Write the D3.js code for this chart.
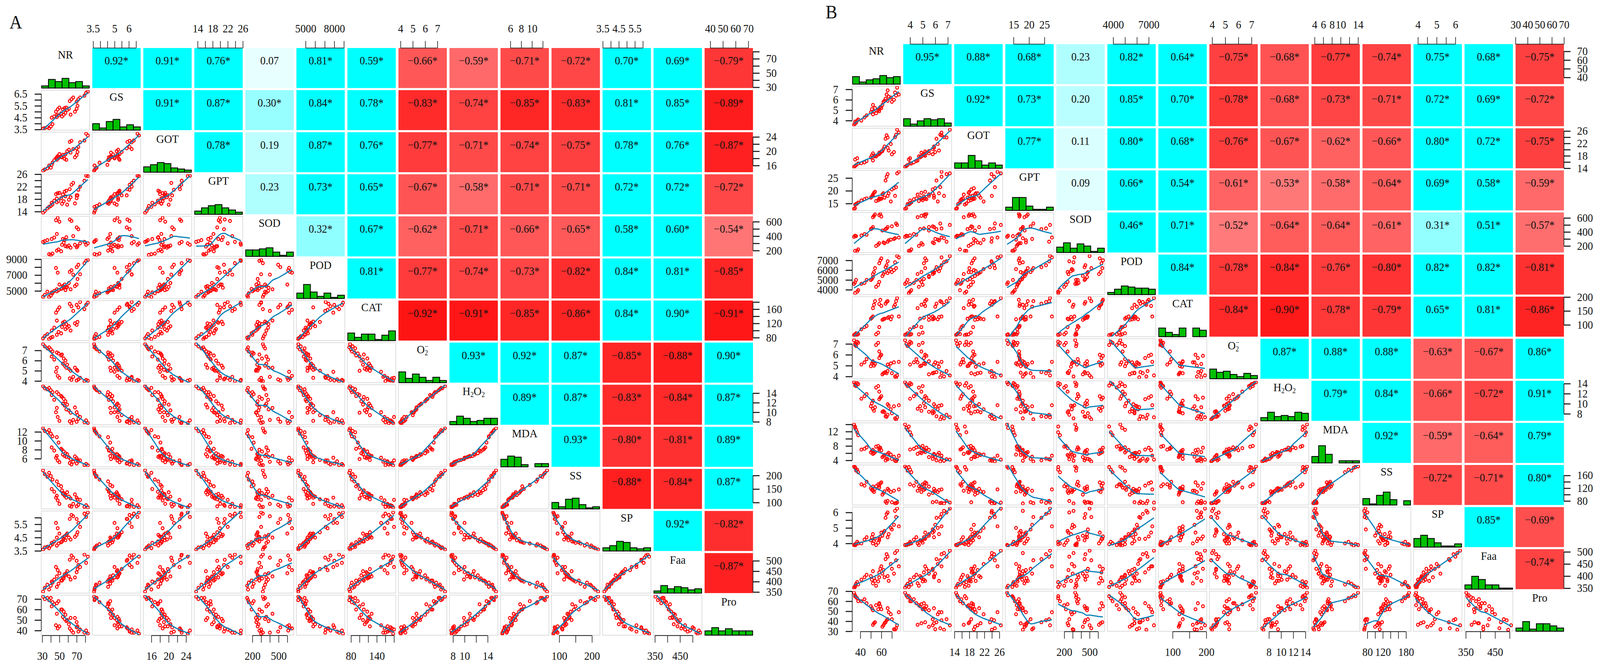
<!DOCTYPE html>
<html>
<head>
<meta charset="utf-8">
<script src="https://cdn.jsdelivr.net/npm/d3@7"></script>
<style>
  html, body { margin: 0; padding: 0; background: #fff; width: 100%; height: 100%; overflow: hidden; }
  svg { display: block; width: 100vw; height: 100vh; }
  text { font-family: "Liberation Serif", "Times New Roman", serif; fill: #111; }
</style>
</head>
<body>
<div id="chart"></div>
<script>
const varNames = ["NR", "GS", "GOT", "GPT", "SOD", "POD", "CAT", "O2", "H2O2", "MDA", "SS", "SP", "Faa", "Pro"];

// panel A samples (three per treatment)
const nrA = [31,33,36, 38,40,42, 41,44,47, 46,48,50, 47,49,52, 53,55,57, 54,56,58, 59,61,63, 62,64,66, 68,70,71, 70,72,74, 79,81,83];
const gsA = [3.57,3.62,3.7, 3.6,3.75,3.95, 4.5,4.6,4.7, 5.0,5.2,5.35, 4.55,4.7,4.85, 4.6,4.75,4.9, 5.2,5.3,5.35, 5.15,5.25,4.75, 5.9,6.05,6.2, 5.0,5.25,5.5, 5.85,6.05,6.2, 6.35,6.6,6.7];
const gotA = [14.55,14.9,15.2, 16.0,15.4,16.8, 16.2,17.5,18.3, 18.0,18.6,19.2, 17.6,18.1,18.4, 18.3,18.6,19.1, 19.0,17.9,17.6, 20.0,20.4,19.6, 22.6,22.9,20.6, 18.3,18.9,19.8, 20.8,21.2,22.5, 23.0,24.9,24.4];
const gptA = [13.6,14.2,15.0, 15.5,15.8,16.3, 16.8,17.5,18.2, 19.6,19.9,20.0, 17.0,17.4,18.3, 16.5,17.3,18.9, 19.5,20.4,20.7, 16.2,17.8,18.6, 21.2,22.6,23.2, 16.6,18.3,19.2, 19.2,21.0,22.0, 23.9,25.5,25.4];
const sodA = [320,330,345, 150,140,158, 360,380,430, 620,653,600, 200,215,190, 280,310,260, 360,345,385, 255,270,240, 630,610,400, 280,245,260, 520,495,300, 320,280,300];
const podA = [4250,4500,4900, 4230,4400,4700, 4800,5000,5200, 7900,7300,5800, 4950,5100,5250, 5300,5500,5100, 5600,5800,5400, 5500,6000,5200, 7400,7600,7050, 5600,5800,6500, 8000,8300,7100, 8500,8800,8910];
const catA = [78,84,90, 76,80,82, 100,108,128, 150,158,165, 88,96,92, 110,118,104, 122,125,118, 108,112,100, 175,168,155, 120,116,124, 172,165,180, 160,172,178];
const o2A = [7.62,7.4,7.2, 7.3,7.1,6.9, 6.4,6.1,5.3, 4.9,4.5,4.3, 6.8,6.7,6.5, 6.6,6.2,6.0, 5.7,5.5,5.3, 5.6,5.2,5.0, 4.25,4.1,4.4, 5.3,5.1,5.0, 4.05,4.15,4.3, 3.98,4.1,4.03];
const h2o2A = [15.45,15.0,14.8, 15.1,14.6,14.2, 13.6,12.6,10.9, 10.0,9.0,8.2, 14.2,13.8,13.4, 13.2,12.8,12.3, 11.8,11.4,10.6, 11.6,10.4,9.9, 8.1,7.7,8.4, 11.0,10.0,9.4, 8.0,8.6,9.0, 7.9,8.3,7.75];
const mdaA = [12.8,12.2,11.9, 12.4,11.6,11.0, 8.5,7.8,6.6, 6.2,5.6,5.2, 10.8,9.6,8.2, 8.0,7.6,7.2, 6.9,6.6,6.4, 7.0,6.3,5.9, 5.0,4.7,5.3, 6.5,6.1,5.7, 4.9,5.4,5.6, 4.55,4.8,4.5];
const ssA = [219,205,195, 210,198,185, 150,140,125, 118,108,95, 178,165,160, 145,135,128, 132,125,118, 138,122,115, 88,85,95, 130,118,112, 86,92,110, 84,90,82];
const spA = [3.6,3.75,3.8, 3.7,3.9,4.0, 4.1,4.2,4.5, 5.6,5.2,4.8, 3.9,4.05,4.15, 4.2,4.4,4.3, 4.5,4.6,4.7, 4.8,4.5,4.35, 5.9,6.2,6.1, 4.55,4.7,4.9, 5.9,5.6,5.3, 6.3,6.05,6.39];
const faaA = [352,370,385, 362,380,395, 400,410,425, 470,455,440, 375,390,405, 405,415,430, 420,435,440, 450,425,410, 505,525,515, 420,445,460, 500,480,470, 530,490,520];
const proA = [72.3,70,71, 69,71,67, 63,65,56, 45,42,44, 66,68,60, 60,58,55, 53,51,49, 50,46,52, 42,40,38, 52,48,44, 43,39,41, 38,40,37];

// panel B samples
const nrB = [34,35,36, 35,37,38, 41,44,46, 50,51,52, 52,53,54, 55,57,58, 58,59,60, 61,62,63, 64,65,66, 66,67,69, 70,72,73, 74,75,76.6];
const gsB = [3.6,3.7,3.8, 3.9,4.0,4.1, 4.0,4.3,4.5, 4.8,5.1,5.5, 4.6,4.9,5.2, 4.7,5.0,4.9, 5.1,5.3,5.2, 5.5,5.8,5.9, 6.1,6.5,6.9, 5.9,6.3,6.2, 5.8,6.0,6.7, 6.4,7.16,6.5];
const gotB = [14.45,14.7,15, 16.8,17.2,15.5, 15.6,15.9,16.3, 17.5,18.2,18.8, 16.5,17.8,18, 17.8,18.4,19, 18.6,19,19.4, 19.5,20.2,21, 23.5,24.6,23.9, 20.6,19.7,21.8, 18.5,19.2,24, 24.8,26.4,25.5];
const gptB = [12.9,13.2,14.8, 14.6,15.0,15.4, 16.2,16.7,17.0, 17.3,17.8,18.0, 18.5,19.2,19.6, 16.0,16.3,16.8, 17,16.7,16.9, 18.6,19,17.3, 24,25.5,26.5, 18,19,15.8, 20.5,21,18, 21.4,26.8,27.4];
const sodB = [330,345,340, 130,128,150, 350,370,360, 440,450,470, 610,630,650, 200,220,240, 640,657,620, 420,250,240, 440,450,260, 470,280,290, 480,300,310, 520,500,320];
const podB = [4600,4750,5000, 3660,3800,3950, 4600,4700,5000, 5000,5100,5300, 5600,5800,6200, 4300,4500,4800, 6700,7000,7200, 5400,5600,5800, 6300,6500,6900, 5700,5900,6100, 5800,6000,6800, 6200,7440,7300];
const catB = [64,66,70, 63,65,67, 84,92,96, 122,126,130, 160,172,185, 66,72,92, 175,190,168, 118,120,122, 176,182,185, 125,128,120, 130,165,172, 185,196,130];
const o2B = [7.34,7.0,6.8, 6.9,7.2,7.1, 5.1,5.3,5.6, 4.95,5.2,5.4, 5.3,5.0,5.15, 6.9,7.1,6.3, 5.7,5.9,6.0, 4.2,4.3,4.35, 4.4,4.3,4.5, 5.1,4.9,5.2, 4.3,5.3,4.0, 3.93,4.1,5.35];
const h2o2B = [14.26,13.9,13.5, 13.6,14.1,13.9, 11.0,11.5,11.9, 9.5,10.1,10.6, 9.0,8.6,9.3, 13.2,13.5,12.4, 10.9,11.2,11.5, 8.4,8.5,8.3, 7.5,7.4,7.8, 9.9,9.6,8.9, 8.1,9.5,7.1, 6.9,7.3,9.7];
const mdaB = [14.0,13.0,12.5, 13.4,11.8,11.0, 7.0,7.2,7.6, 6.2,6.6,6.9, 5.8,6.0,6.3, 7.8,8.0,7.4, 7.0,7.5,6.8, 4.9,5.2,5.5, 4.0,4.5,4.3, 5.8,6.1,5.6, 4.4,5.0,3.9, 3.7,4.2,5.3];
const ssB = [188,184,175, 186,178,170, 132,128,140, 120,115,125, 112,108,118, 126,132,122, 128,135,138, 100,105,110, 78,74,80, 118,114,108, 76,112,72, 73,75,116];
const spB = [3.9,3.86,3.95, 3.95,4.1,4.0, 4.0,4.25,4.4, 4.2,4.4,4.6, 4.0,4.15,4.3, 3.9,4.05,4.2, 4.3,4.45,4.7, 4.5,4.7,4.8, 5.65,5.9,6.0, 4.4,4.6,5.0, 4.9,5.2,6.1, 5.7,6.25,5.1];
const faaB = [352,360,368, 355,375,365, 385,395,405, 400,385,420, 370,392,380, 360,378,395, 415,430,440, 410,425,395, 470,490,480, 400,380,450, 430,410,495, 465,505,440];
const proB = [68.5,66,64, 65,63,60, 60,62,58, 55,53,51, 36.5,38,39, 56,52,57, 58,55,52, 34.5,36,38, 39,41,42, 53,49,47, 42,32,31.5, 33,36,49];

// histogram counts on the diagonal
const histA = [[2,8,6,9,5,6,2],[6,2,8,10,3,5,3],[5,7,9,8,4,3,2],[3,6,8,9,6,4,2],[6,6,7,8,4,1,4],[5,13,6,2,5,1,3],[7,3,6,6,1,5,9],
               [10,4,8,5,2,5,2],[3,8,6,3,4,6,6],[7,10,9,2,0,3,3],[6,2,9,10,4,1,2],[3,5,9,8,3,2,3],[2,7,4,6,5,3,4],[4,7,4,6,4,4,4]];
const histB = [[7,2,4,5,8,6,7],[7,2,5,7,6,7,3],[5,5,12,7,3,5,3],[3,12,12,4,1,1,3],[5,9,4,8,6,1,4],[2,5,8,7,6,6,5],[8,4,2,8,0,8,6],
               [9,6,7,4,2,5,3],[3,8,4,5,4,8,7],[6,16,8,0,2,2,2],[6,1,9,12,5,0,4],[8,11,8,4,1,1,3],[4,12,9,4,4,1,1],[3,9,2,7,7,5,3]];

// correlation labels, upper triangle row by row
const corrA = [
  ["0.92*","0.91*","0.76*","0.07","0.81*","0.59*","-0.66*","-0.59*","-0.71*","-0.72*","0.70*","0.69*","-0.79*"],
  ["0.91*","0.87*","0.30*","0.84*","0.78*","-0.83*","-0.74*","-0.85*","-0.83*","0.81*","0.85*","-0.89*"],
  ["0.78*","0.19","0.87*","0.76*","-0.77*","-0.71*","-0.74*","-0.75*","0.78*","0.76*","-0.87*"],
  ["0.23","0.73*","0.65*","-0.67*","-0.58*","-0.71*","-0.71*","0.72*","0.72*","-0.72*"],
  ["0.32*","0.67*","-0.62*","-0.71*","-0.66*","-0.65*","0.58*","0.60*","-0.54*"],
  ["0.81*","-0.77*","-0.74*","-0.73*","-0.82*","0.84*","0.81*","-0.85*"],
  ["-0.92*","-0.91*","-0.85*","-0.86*","0.84*","0.90*","-0.91*"],
  ["0.93*","0.92*","0.87*","-0.85*","-0.88*","0.90*"],
  ["0.89*","0.87*","-0.83*","-0.84*","0.87*"],
  ["0.93*","-0.80*","-0.81*","0.89*"],
  ["-0.88*","-0.84*","0.87*"],
  ["0.92*","-0.82*"],
  ["-0.87*"]
];
const corrB = [
  ["0.95*","0.88*","0.68*","0.23","0.82*","0.64*","-0.75*","-0.68*","-0.77*","-0.74*","0.75*","0.68*","-0.75*"],
  ["0.92*","0.73*","0.20","0.85*","0.70*","-0.78*","-0.68*","-0.73*","-0.71*","0.72*","0.69*","-0.72*"],
  ["0.77*","0.11","0.80*","0.68*","-0.76*","-0.67*","-0.62*","-0.66*","0.80*","0.72*","-0.75*"],
  ["0.09","0.66*","0.54*","-0.61*","-0.53*","-0.58*","-0.64*","0.69*","0.58*","-0.59*"],
  ["0.46*","0.71*","-0.52*","-0.64*","-0.64*","-0.61*","0.31*","0.51*","-0.57*"],
  ["0.84*","-0.78*","-0.84*","-0.76*","-0.80*","0.82*","0.82*","-0.81*"],
  ["-0.84*","-0.90*","-0.78*","-0.79*","0.65*","0.81*","-0.86*"],
  ["0.87*","0.88*","0.88*","-0.63*","-0.67*","0.86*"],
  ["0.79*","0.84*","-0.66*","-0.72*","0.91*"],
  ["0.92*","-0.59*","-0.64*","0.79*"],
  ["-0.72*","-0.71*","0.80*"],
  ["0.85*","-0.69*"],
  ["-0.74*"]
];

// axis ticks per variable, [ticks, labels]
const topA = { GS:[[3.5,4,4.5,5,5.5,6,6.5],[3.5,5,6]], GPT:[[14,16,18,20,22,24,26],[14,18,22,26]], POD:[[5000,6000,7000,8000,9000],[5000,8000]],
  O2:[[4,5,6,7],[4,5,6,7]], MDA:[[6,8,10,12],[6,8,10]], SP:[[3.5,4,4.5,5,5.5,6],[3.5,4.5,5.5]], Pro:[[40,50,60,70],[40,50,60,70]] };
const bottomA = { NR:[[30,40,50,60,70,80],[30,50,70]], GOT:[[16,18,20,22,24],[16,20,24]], SOD:[[200,300,400,500,600],[200,500]],
  CAT:[[80,100,120,140,160,180],[80,140]], H2O2:[[8,10,12,14],[8,10,14]], SS:[[100,150,200],[100,200]], Faa:[[350,400,450,500],[350,450]] };
const leftA = { GS:[[3.5,4,4.5,5,5.5,6,6.5],[3.5,4.5,5.5,6.5]], GPT:[[14,16,18,20,22,24,26],[14,18,22,26]], POD:[[5000,6000,7000,8000,9000],[5000,7000,9000]],
  O2:[[4,5,6,7],[4,5,6,7]], MDA:[[6,8,10,12],[6,8,10,12]], SP:[[3.5,4,4.5,5,5.5,6],[3.5,4.5,5.5]], Pro:[[40,50,60,70],[40,50,60,70]] };
const rightA = { NR:[[30,40,50,60,70,80],[30,50,70]], GOT:[[16,18,20,22,24],[16,20,24]], SOD:[[200,300,400,500,600],[200,400,600]],
  CAT:[[80,100,120,140,160,180],[80,120,160]], H2O2:[[8,10,12,14],[8,10,12,14]], SS:[[100,150,200],[100,150,200]], Faa:[[350,400,450,500],[350,400,450,500]] };

const topB = { GS:[[4,5,6,7],[4,5,6,7]], GPT:[[15,20,25],[15,20,25]], POD:[[4000,5000,6000,7000],[4000,7000]],
  O2:[[4,5,6,7],[4,5,6,7]], MDA:[[4,6,8,10,12,14],[4,6,8,10,14]], SP:[[4,4.5,5,5.5,6],[4,5,6]], Pro:[[30,40,50,60,70],[30,40,50,60,70]] };
const bottomB = { NR:[[40,50,60,70],[40,60]], GOT:[[14,16,18,20,22,24,26],[14,18,22,26]], SOD:[[200,300,400,500,600],[200,500]],
  CAT:[[100,150,200],[100,200]], H2O2:[[8,10,12,14],[8,10,12,14]], SS:[[80,100,120,140,160,180],[80,120,180]], Faa:[[350,400,450,500],[350,450]] };
const leftB = { GS:[[4,5,6,7],[4,5,6,7]], GPT:[[15,20,25],[15,20,25]], POD:[[4000,5000,6000,7000],[4000,5000,6000,7000]],
  O2:[[4,5,6,7],[4,5,6,7]], MDA:[[4,6,8,10,12,14],[4,8,12]], SP:[[4,4.5,5,5.5,6],[4,5,6]], Pro:[[30,40,50,60,70],[30,40,50,60,70]] };
const rightB = { NR:[[40,50,60,70],[40,50,60,70]], GOT:[[14,16,18,20,22,24,26],[14,18,22,26]], SOD:[[200,300,400,500,600],[200,400,600]],
  CAT:[[100,150,200],[100,150,200]], H2O2:[[8,10,12,14],[8,10,12,14]], SS:[[80,100,120,140,160],[80,120,160]], Faa:[[350,400,450,500],[350,400,450,500]] };

const dataA = [nrA, gsA, gotA, gptA, sodA, podA, catA, o2A, h2o2A, mdaA, ssA, spA, faaA, proA];
const dataB = [nrB, gsB, gotB, gptB, sodB, podB, catB, o2B, h2o2B, mdaB, ssB, spB, faaB, proB];

// viewBox so the whole figure stays on the page if the window comes out narrower
const svg = d3.select("#chart").append("svg")
  .attr("viewBox", "0 0 4382 1711")
  .attr("preserveAspectRatio", "none");

// local linear smoother in the manner of panel.smooth (tricube weights)
function lowess(xs, ys, f = 0.8, iters = 1) {
  const order = d3.range(xs.length).sort((a, b) => xs[a] - xs[b]);
  const x = order.map(i => xs[i]), y = order.map(i => ys[i]);
  const n = x.length, k = Math.max(2, Math.floor(f * n + 1e-7));
  let robust = x.map(() => 1);
  let fit = y.slice();
  for (let it = 0; it <= iters; it++) {
    fit = x.map(x0 => {
      const dist = x.map(v => Math.abs(v - x0)).sort(d3.ascending);
      const h = Math.max(dist[k - 1], 1e-9);
      let sw = 0, swx = 0, swy = 0, swxx = 0, swxy = 0;
      x.forEach((v, j) => {
        const u = Math.abs(v - x0) / h;
        if (u >= 1) return;
        const w = Math.pow(1 - u * u * u, 3) * robust[j];
        sw += w; swx += w * v; swy += w * y[j]; swxx += w * v * v; swxy += w * v * y[j];
      });
      const den = sw * swxx - swx * swx;
      if (sw === 0) return d3.mean(y);
      if (Math.abs(den) < 1e-9) return swy / sw;
      const b = (sw * swxy - swx * swy) / den;
      return (swy - b * swx) / sw + b * x0;
    });
    const res = y.map((v, j) => Math.abs(v - fit[j]));
    const s = 6 * d3.median(res);
    robust = res.map(r => { const u = r / (s || 1); return u >= 1 ? 0 : Math.pow(1 - u * u, 2); });
  }
  return x.map((v, j) => [v, fit[j]]);
}

function varLabel(g, name, cx, y) {
  const t = g.append("text").attr("x", cx).attr("y", y).attr("text-anchor", "middle").style("font-size", "30px");
  if (name === "O2") {
    t.append("tspan").text("O");
    t.append("tspan").attr("dy", 5).style("font-size", "18px").text("2");
    t.append("tspan").attr("dx", -9).attr("dy", -17).style("font-size", "18px").text("−");
  } else if (name === "H2O2") {
    t.append("tspan").text("H");
    t.append("tspan").attr("dy", 5).style("font-size", "18px").text("2");
    t.append("tspan").attr("dy", -5).text("O");
    t.append("tspan").attr("dy", 5).style("font-size", "18px").text("2");
  } else {
    t.text(name);
  }
}

function drawPanel(p) {
  const pitchX = 139.75, pitchY = 107.8, cellW = 132.5, cellH = 102.5;
  const g = svg.append("g").attr("transform", `translate(${p.x},${p.y})`);
  const n = varNames.length;

  g.append("text").attr("x", p.tagX).attr("y", p.tagY).style("font-size", "48px").text(p.tag);

  const scalesX = p.data.map(d => {
    const [a, b] = d3.extent(d), pad = (b - a) * 0.04;
    return d3.scaleLinear().domain([a - pad, b + pad]).range([0, cellW]);
  });
  const scalesY = p.data.map(d => {
    const [a, b] = d3.extent(d), pad = (b - a) * 0.04;
    return d3.scaleLinear().domain([a - pad, b + pad]).range([cellH, 0]);
  });

  const cyan = d3.scaleLinear().domain([0, 0.32, 0.46]).range(["#ffffff", "#90ffff", "#00ffff"]).clamp(true);
  const red = d3.scaleLinear().domain([0, 1]).range(["#ffffff", "#ff0000"]);

  for (let r = 0; r < n; r++) {
    for (let c = 0; c < n; c++) {
      const cell = g.append("g").attr("transform", `translate(${c * pitchX},${r * pitchY})`);

      if (c > r) {
        const label = p.corr[r][c - r - 1];
        const v = parseFloat(label);
        cell.append("rect").attr("width", cellW).attr("height", cellH)
          .attr("fill", v < 0 ? red(-v) : cyan(v));
        cell.append("text").attr("x", cellW / 2).attr("y", 42).attr("text-anchor", "middle")
          .style("font-size", "29px").text(label.replace("-", "−"));
      } else if (c === r) {
        varLabel(cell, varNames[r], cellW / 2, 27);
        const counts = p.hist[r];
        const hx = d3.scaleLinear().domain([0, counts.length]).range([1, cellW - 1]);
        const hy = d3.scaleLinear().domain([0, 20]).range([cellH, cellH - 55]);
        cell.selectAll("rect.bar").data(counts).enter().append("rect")
          .attr("class", "bar")
          .attr("x", (d, i) => hx(i))
          .attr("y", d => hy(d))
          .attr("width", (d, i) => hx(i + 1) - hx(i))
          .attr("height", d => cellH - hy(d))
          .attr("fill", "#00c000")
          .attr("stroke", "#000")
          .attr("stroke-width", 2.2);
      } else {
        const id = `clip-${p.tag}-${r}-${c}`;
        cell.append("clipPath").attr("id", id).append("rect").attr("width", cellW).attr("height", cellH);
        cell.append("rect").attr("width", cellW).attr("height", cellH)
          .attr("fill", "#fff").attr("stroke", "#dcdcdc").attr("stroke-width", 2);
        const xs = p.data[c], ys = p.data[r];
        const sx = scalesX[c], sy = scalesY[r];
        const inner = cell.append("g").attr("clip-path", `url(#${id})`);
        inner.selectAll("circle").data(xs).enter().append("circle")
          .attr("cx", d => sx(d))
          .attr("cy", (d, i) => sy(ys[i]))
          .attr("r", 3.8)
          .attr("fill", "none")
          .attr("stroke", "#ff0000")
          .attr("stroke-width", 2.6);
        inner.append("path")
          .datum(lowess(xs, ys))
          .attr("fill", "none")
          .attr("stroke", "#0a82b8")
          .attr("stroke-width", 3)
          .attr("d", d3.line().curve(d3.curveBasis).x(d => sx(d[0])).y(d => sy(d[1])));
      }
    }
  }

  // outer axes, alternating sides like pairs()
  function axis(gen, scale, spec, transform, fontPad, thick) {
    const a = g.append("g").attr("transform", transform)
      .call(gen(scale).tickValues(spec[0]).tickSize(18).tickSizeOuter(0).tickPadding(fontPad)
        .tickFormat(d => spec[1].includes(d) ? String(d) : ""));
    a.select(".domain").remove();
    a.selectAll("line").attr("stroke", "#111").attr("stroke-width", thick);
    a.selectAll("text").style("font-size", "29px").style("font-family", '"Liberation Serif", serif').attr("fill", "#111");
    const ext = d3.extent(spec[0]).map(scale);
    if (gen === d3.axisTop || gen === d3.axisBottom) {
      a.append("line").attr("x1", ext[0]).attr("x2", ext[1]).attr("stroke", "#111").attr("stroke-width", 1.6);
    } else {
      a.append("line").attr("y1", ext[0]).attr("y2", ext[1]).attr("stroke", "#111").attr("stroke-width", 1.6);
    }
  }

  varNames.forEach((name, i) => {
    if (i % 2 === 1) {
      axis(d3.axisTop, scalesX[i], p.top[name], `translate(${i * pitchX},0)`, 22, 1.6);
      axis(d3.axisLeft, scalesY[i], p.left[name], `translate(0,${i * pitchY})`, 20, 2.6);
    } else {
      axis(d3.axisBottom, scalesX[i], p.bottom[name], `translate(${i * pitchX},${13 * pitchY + cellH + 1})`, 24, 1.6);
      axis(d3.axisRight, scalesY[i], p.right[name], `translate(${13 * pitchX + cellW},${i * pitchY})`, 18, 2.6);
    }
  });
}

drawPanel({ tag: "A", x: 113, y: 123, tagX: -87, tagY: -50, data: dataA, hist: histA, corr: corrA,
  top: topA, bottom: bottomA, left: leftA, right: rightA });
drawPanel({ tag: "B", x: 2334, y: 113, tagX: -73, tagY: -66, data: dataB, hist: histB, corr: corrB,
  top: topB, bottom: bottomB, left: leftB, right: rightB });
</script>
</body>
</html>
